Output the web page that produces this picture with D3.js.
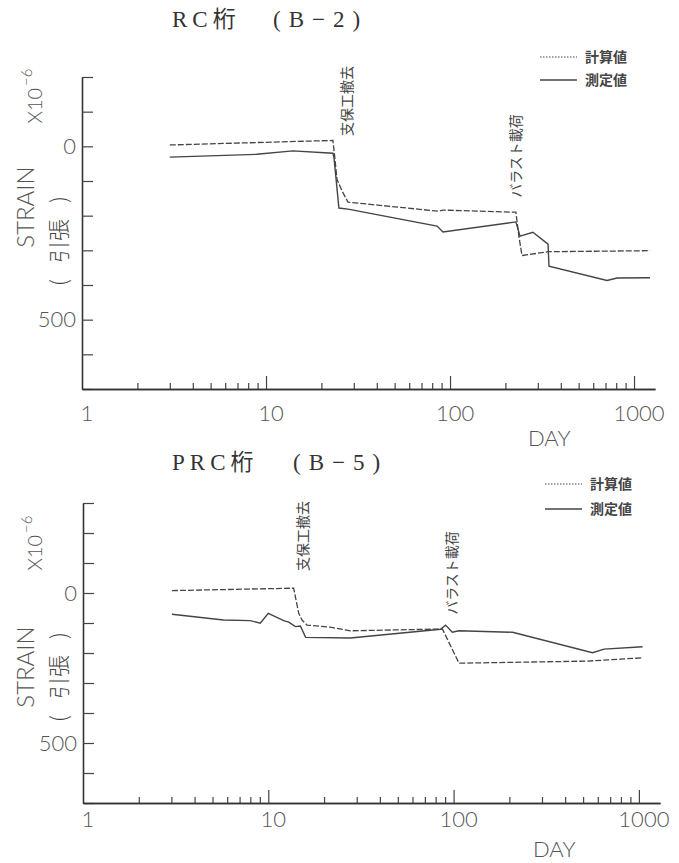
<!DOCTYPE html>
<html>
<head>
<meta charset="utf-8">
<script src="https://cdn.jsdelivr.net/npm/d3@7"></script>
<style>
body { margin: 0; background: #fff; }
.lab { font-family: "Lato", "DejaVu Sans", sans-serif; font-weight: 300; fill: #555; }
.jp { font-family: "Noto Sans CJK JP", sans-serif; fill: #444; }
.ttl { font-family: "Liberation Serif", "Noto Sans CJK JP", serif; fill: #333; font-size: 23px; }
</style>
</head>
<body>
<script>
// RC桁 (B-2)
var rcCalcDay    = [3, 23.1, 23.7, 24.3, 25.9, 27.9, 86, 91.6, 228, 237, 246, 341, 1222];
var rcCalcStrain = [-4, -17, 37, 95, 129, 161, 187, 184, 190, 261, 315, 304, 301];
var rcMeasDay    = [3, 8.9, 14, 23.1, 23.4, 24.9, 27.9, 85, 91.6, 228, 240, 282, 341, 345, 713, 809, 1222];
var rcMeasStrain = [31, 23, 13, 20, 32, 178, 181, 230, 247, 218, 259, 248, 282, 346, 387, 380, 379];
var rcEventDay   = [27.5, 230];

// PRC桁 (B-5)
var prcCalcDay    = [3.02, 13.7, 14.6, 15.2, 16.2, 21.6, 27.7, 87, 107, 528, 1047];
var prcCalcStrain = [-8, -16, 68, 90, 107, 114, 126, 120, 234, 227, 216];
var prcMeasDay    = [3.02, 5.73, 8.0, 9.05, 10.0, 12.1, 12.9, 14.0, 14.9, 15.9, 27.7, 85, 90.5, 98.4, 107, 208, 562, 649, 1047];
var prcMeasStrain = [71, 90, 92, 101, 68, 92, 97, 112, 110, 148, 150, 121, 107, 131, 126, 131, 199, 187, 179];
var prcEventDay   = [15.5, 98.5];

var xMajor = [1, 10, 100, 1000];
var yLabeled = [0, 500];
var seriesNames = ["計算値", "測定値"];
var eventNames = ["支保工撤去", "バラスト載荷"];

var svg = d3.select('body').append('svg').attr('width', 679).attr('height', 863);

var panels = [
  { name: 'RC桁', sub: '(B−2)', subX: 273, titleY: 27,
    calcDay: rcCalcDay, calcStrain: rcCalcStrain, measDay: rcMeasDay, measStrain: rcMeasStrain,
    eventDay: rcEventDay, eventY: [101, 156],
    xr: [82, 655], yr: [77, 389], yd: [-200, 700], labY: 32, dayY: 446,
    legX: 540, legY: [57, 80], yLab: [96, 207, 241] },
  { name: 'PRC桁', sub: '(B−5)', subX: 293, titleY: 470,
    calcDay: prcCalcDay, calcStrain: prcCalcStrain, measDay: prcMeasDay, measStrain: prcMeasStrain,
    eventDay: prcEventDay, eventY: [536, 573],
    xr: [83, 660], yr: [503, 803], yd: [-300, 700], labY: 24, dayY: 857,
    legX: 545, legY: [484, 509], yLab: [543, 667, 677] }
];

panels.forEach(drawPanel);

function drawPanel(p) {
  var x = d3.scaleLog().domain([1, 1300]).range(p.xr);
  var y = d3.scaleLinear().domain(p.yd).range([p.yr[0], p.yr[1]]);
  var g = svg.append('g');

  // title
  var t = g.append('text').attr('class', 'ttl').attr('y', p.titleY);
  t.append('tspan').attr('x', 172).attr('letter-spacing', 5).text(p.name);
  t.append('tspan').attr('x', p.subX).attr('letter-spacing', 8).text(p.sub);

  // y axis
  var yAxis = d3.axisLeft(y)
    .tickValues(d3.range(p.yd[0], p.yd[1] + 1, 100))
    .tickSize(-11).tickSizeOuter(0).tickPadding(6)
    .tickFormat(function(d){ return yLabeled.indexOf(d) >= 0 ? d : ''; });
  var ya = g.append('g').attr('transform', 'translate(' + p.xr[0] + ',0)').call(yAxis);

  // x axis, minor and major ticks
  var minor = [];
  [1, 10, 100].forEach(function(b){ for (var i = 2; i <= 9; i++) minor.push(b * i); });
  var xa1 = g.append('g').attr('transform', 'translate(0,' + p.yr[1] + ')')
    .call(d3.axisBottom(x).tickValues(minor).tickSize(-6).tickSizeOuter(0).tickFormat(''));
  var xa2 = g.append('g').attr('transform', 'translate(0,' + p.yr[1] + ')')
    .call(d3.axisBottom(x).tickValues(xMajor.slice(1)).tickSize(-13).tickSizeOuter(0).tickFormat(''));
  g.append('g').selectAll('text').data(xMajor).enter().append('text')
    .attr('class', 'lab').attr('font-size', 22)
    .attr('x', function(d){ return x(d) + 5; })
    .attr('y', p.yr[1] + p.labY)
    .attr('text-anchor', 'middle')
    .text(function(d){ return d; });

  [ya, xa1, xa2].forEach(function(a){
    a.select('.domain').attr('stroke', '#333').attr('stroke-width', 1.6);
    a.selectAll('.tick line').attr('stroke', '#444').attr('stroke-width', 1.2);
    a.selectAll('.tick text').attr('class', 'lab').attr('font-size', 22).attr('fill', '#555');
  });
  ya.attr('font-family', null);

  g.append('text').attr('class', 'lab').attr('font-size', 22)
    .attr('x', x(1300) - 127).attr('y', p.dayY).text('DAY');

  // y labels
  var yl = g.append('text').attr('class', 'lab').attr('font-size', 20)
    .attr('transform', 'translate(42,' + p.yLab[0] + ') rotate(-90)').attr('text-anchor', 'middle');
  yl.append('tspan').text('X10');
  yl.append('tspan').attr('font-size', 15).attr('dy', -10).attr('dx', 2).text('−6');
  g.append('text').attr('class', 'lab').attr('font-size', 24)
    .attr('transform', 'translate(34,' + p.yLab[1] + ') rotate(-90)').attr('text-anchor', 'middle')
    .text('STRAIN');
  var yj = g.append('text').attr('class', 'jp').attr('font-size', 22).attr('fill', '#555').attr('font-weight', 300)
    .attr('transform', 'translate(67,' + p.yLab[2] + ') rotate(-90)').attr('text-anchor', 'middle');
  yj.append('tspan').text('(');
  yj.append('tspan').attr('dx', 16).text('引張');
  yj.append('tspan').attr('dx', 16).text(')');

  // lines
  var line = d3.line().x(function(d){ return x(d[0]); }).y(function(d){ return y(d[1]); });
  var calc = d3.zip(p.calcDay, p.calcStrain);
  var meas = d3.zip(p.measDay, p.measStrain);
  g.append('path').attr('d', line(calc)).attr('fill', 'none')
    .attr('stroke', '#444').attr('stroke-width', 1.3).attr('stroke-dasharray', '6,2');
  g.append('path').attr('d', line(meas)).attr('fill', 'none')
    .attr('stroke', '#444').attr('stroke-width', 1.4);

  // event labels
  eventNames.forEach(function(n, i){
    g.append('text').attr('class', 'jp').attr('font-size', 14)
      .attr('transform', 'translate(' + x(p.eventDay[i]) + ',' + p.eventY[i] + ') rotate(-90)')
      .attr('text-anchor', 'middle').attr('dy', '0.35em').text(n);
  });

  // legend
  seriesNames.forEach(function(n, i){
    g.append('line').attr('x1', p.legX).attr('x2', p.legX + 37)
      .attr('y1', p.legY[i]).attr('y2', p.legY[i])
      .attr('stroke', '#444').attr('stroke-width', i ? 1.4 : 1.2)
      .attr('stroke-dasharray', i ? null : '1.5,1.5');
    g.append('text').attr('class', 'jp').attr('font-size', 14).attr('font-weight', 700)
      .attr('x', p.legX + 45).attr('y', p.legY[i]).attr('dy', '0.35em').text(n);
  });
}
</script>
</body>
</html>
